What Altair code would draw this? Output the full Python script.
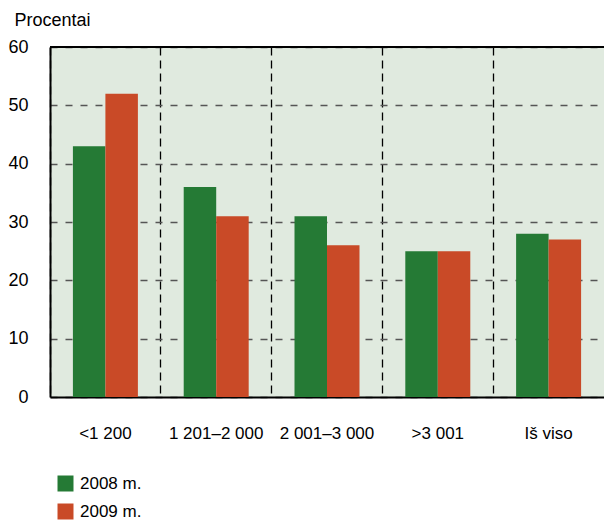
import altair as alt
import pandas as pd

categories = ["<1 200", "1 201–2 000", "2 001–3 000", ">3 001", "Iš viso"]
series = ["2008 m.", "2009 m."]
values_2008 = [43, 36, 31, 25, 28]
values_2009 = [52, 31, 26, 25, 27]

rows = []
for c, v in zip(categories, values_2008):
    rows.append({"cat": c, "year": series[0], "value": v})
for c, v in zip(categories, values_2009):
    rows.append({"cat": c, "year": series[1], "value": v})
df = pd.DataFrame(rows)

FONT = "Liberation Sans, Arial, sans-serif"
FS = 17

bars = alt.Chart(df).mark_bar().encode(
    x=alt.X("cat:N", sort=categories,
            scale=alt.Scale(paddingInner=0, paddingOuter=0),
            axis=alt.Axis(title=None, labelAngle=0, ticks=False, labelPadding=36,
                          labelBaseline="middle", labelFontSize=FS, labelFont=FONT,
                          labelColor="black", domainColor="black", domainWidth=2,
                          grid=True, bandPosition=0, gridColor="black",
                          gridDash=[8, 5], gridWidth=1.3)),
    xOffset=alt.XOffset("year:N", sort=series,
                        scale=alt.Scale(paddingInner=0, paddingOuter=0.705)),
    y=alt.Y("value:Q", scale=alt.Scale(domain=[0, 60], nice=False),
            axis=alt.Axis(values=[0, 10, 20, 30, 40, 50, 60], ticks=False,
                          labelPadding=22, labelFontSize=FS + 1, labelFont=FONT,
                          labelColor="black", domainColor="black", domainWidth=2,
                          gridColor="#555555", gridDash=[7, 8], gridWidth=1.5,
                          title="Procentai", titleAngle=0, titleX=-36, titleY=-27,
                          titleAlign="left", titleBaseline="middle",
                          titleFont=FONT, titleFontSize=FS + 1, titleFontWeight="normal",
                          titleColor="black")),
    color=alt.Color("year:N", sort=series,
                    scale=alt.Scale(domain=series, range=["#257a35", "#c94a27"]),
                    legend=alt.Legend(title=None, orient="none", legendX=7, legendY=428,
                                      symbolType="square", symbolSize=256,
                                      symbolStrokeWidth=0, labelFontSize=FS,
                                      labelFont=FONT, labelColor="black",
                                      rowPadding=10, labelOffset=6, padding=0)),
)

top = alt.Chart(pd.DataFrame({"v": [60]})).mark_rule(color="black", strokeWidth=2).encode(
    y=alt.Y("v:Q", scale=alt.Scale(domain=[0, 60], nice=False))
)

chart = alt.layer(bars, top).properties(
    width=554, height=350,
    autosize=alt.AutoSizeParams(type="none"),
    padding={"left": 50, "top": 47, "right": 0, "bottom": 125},
    background="white",
).configure_view(fill="#e0eadf", stroke=None)

chart.save("out.html", embed_options={"renderer": "svg", "actions": False})
